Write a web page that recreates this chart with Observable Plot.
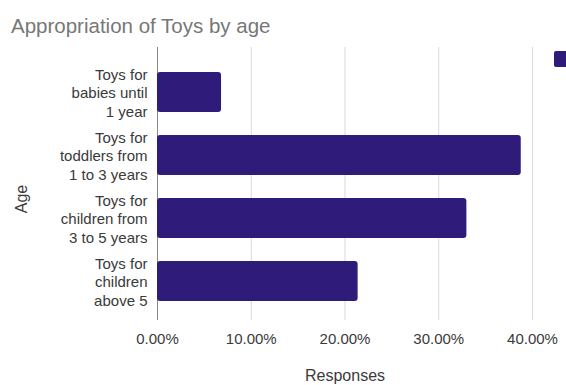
<!DOCTYPE html>
<html>
<head>
<meta charset="utf-8">
<script src="https://cdn.jsdelivr.net/npm/d3@7"></script>
<script src="https://cdn.jsdelivr.net/npm/@observablehq/plot@0.6"></script>
<style>
  body { margin: 0; background: #fff; }
  #wrap { position: relative; width: 566px; height: 385px; overflow: hidden; font-family: "Liberation Sans", Arial, sans-serif; }
  #title { height: 40px; box-sizing: border-box; padding: 16px 0 0 11px; font-size: 20.5px; color: #777; line-height: 1; white-space: nowrap; }
  #legend { position: absolute; left: 554px; top: 51px; width: 16px; height: 16px; background: #2f1b7a; border-radius: 2px; }
  #ytitle { position: absolute; left: 22px; top: 199px; transform: translate(-50%, -50%) rotate(-90deg); font-size: 16px; color: #3a3a3a; white-space: nowrap; line-height: 1; }
  svg { display: block; }
</style>
</head>
<body>
<div id="wrap">
  <div id="title">Appropriation of Toys by age</div>
  <div id="legend"></div>
  <div id="ytitle"></div>
  <div id="chart"></div>
</div>
<script>
const categories = [
  "Toys for\nbabies until\n1 year",
  "Toys for\ntoddlers from\n1 to 3 years",
  "Toys for\nchildren from\n3 to 5 years",
  "Toys for\nchildren\nabove 5"
];
const responses = [0.0683, 0.388, 0.330, 0.214];
const xTicks = [0, 0.1, 0.2, 0.3, 0.4];
const xTitle = "Responses";
const yTitle = "Age";

document.getElementById("ytitle").textContent = yTitle;

const data = categories.map((c, i) => ({category: c, value: responses[i]}));
const barColor = "#2f1b7a";

const chart = Plot.plot({
  width: 566,
  height: 345,
  marginLeft: 157,
  marginRight: 34,
  marginTop: 7,
  marginBottom: 65,
  style: {fontFamily: "'Liberation Sans', Arial, sans-serif", fontSize: "15px", color: "#3a3a3a", background: "#fff"},
  x: {domain: [0, 0.4], ticks: xTicks},
  y: {domain: categories, padding: 0.365, paddingOuter: 0.3, insetTop: 6},
  marks: [
    Plot.gridX(xTicks.slice(1), {stroke: "#d9d9d9", strokeOpacity: 1}),
    Plot.ruleX([0], {stroke: "#888"}),
    Plot.barX(data, {x: "value", y: "category", fill: barColor, rx: 3}),
    Plot.axisX(xTicks, {tickSize: 0, tickPadding: 13, tickFormat: d3.format(".2%"), label: null, fontSize: 15}),
    Plot.axisY({tickSize: 0, tickPadding: 10, label: null, lineHeight: 1.23, fontSize: 15}),
    Plot.text([xTitle], {frameAnchor: "bottom", dy: 60, fontSize: 16, fill: "#3a3a3a"})
  ]
});
document.getElementById("chart").appendChild(chart);
</script>
</body>
</html>
